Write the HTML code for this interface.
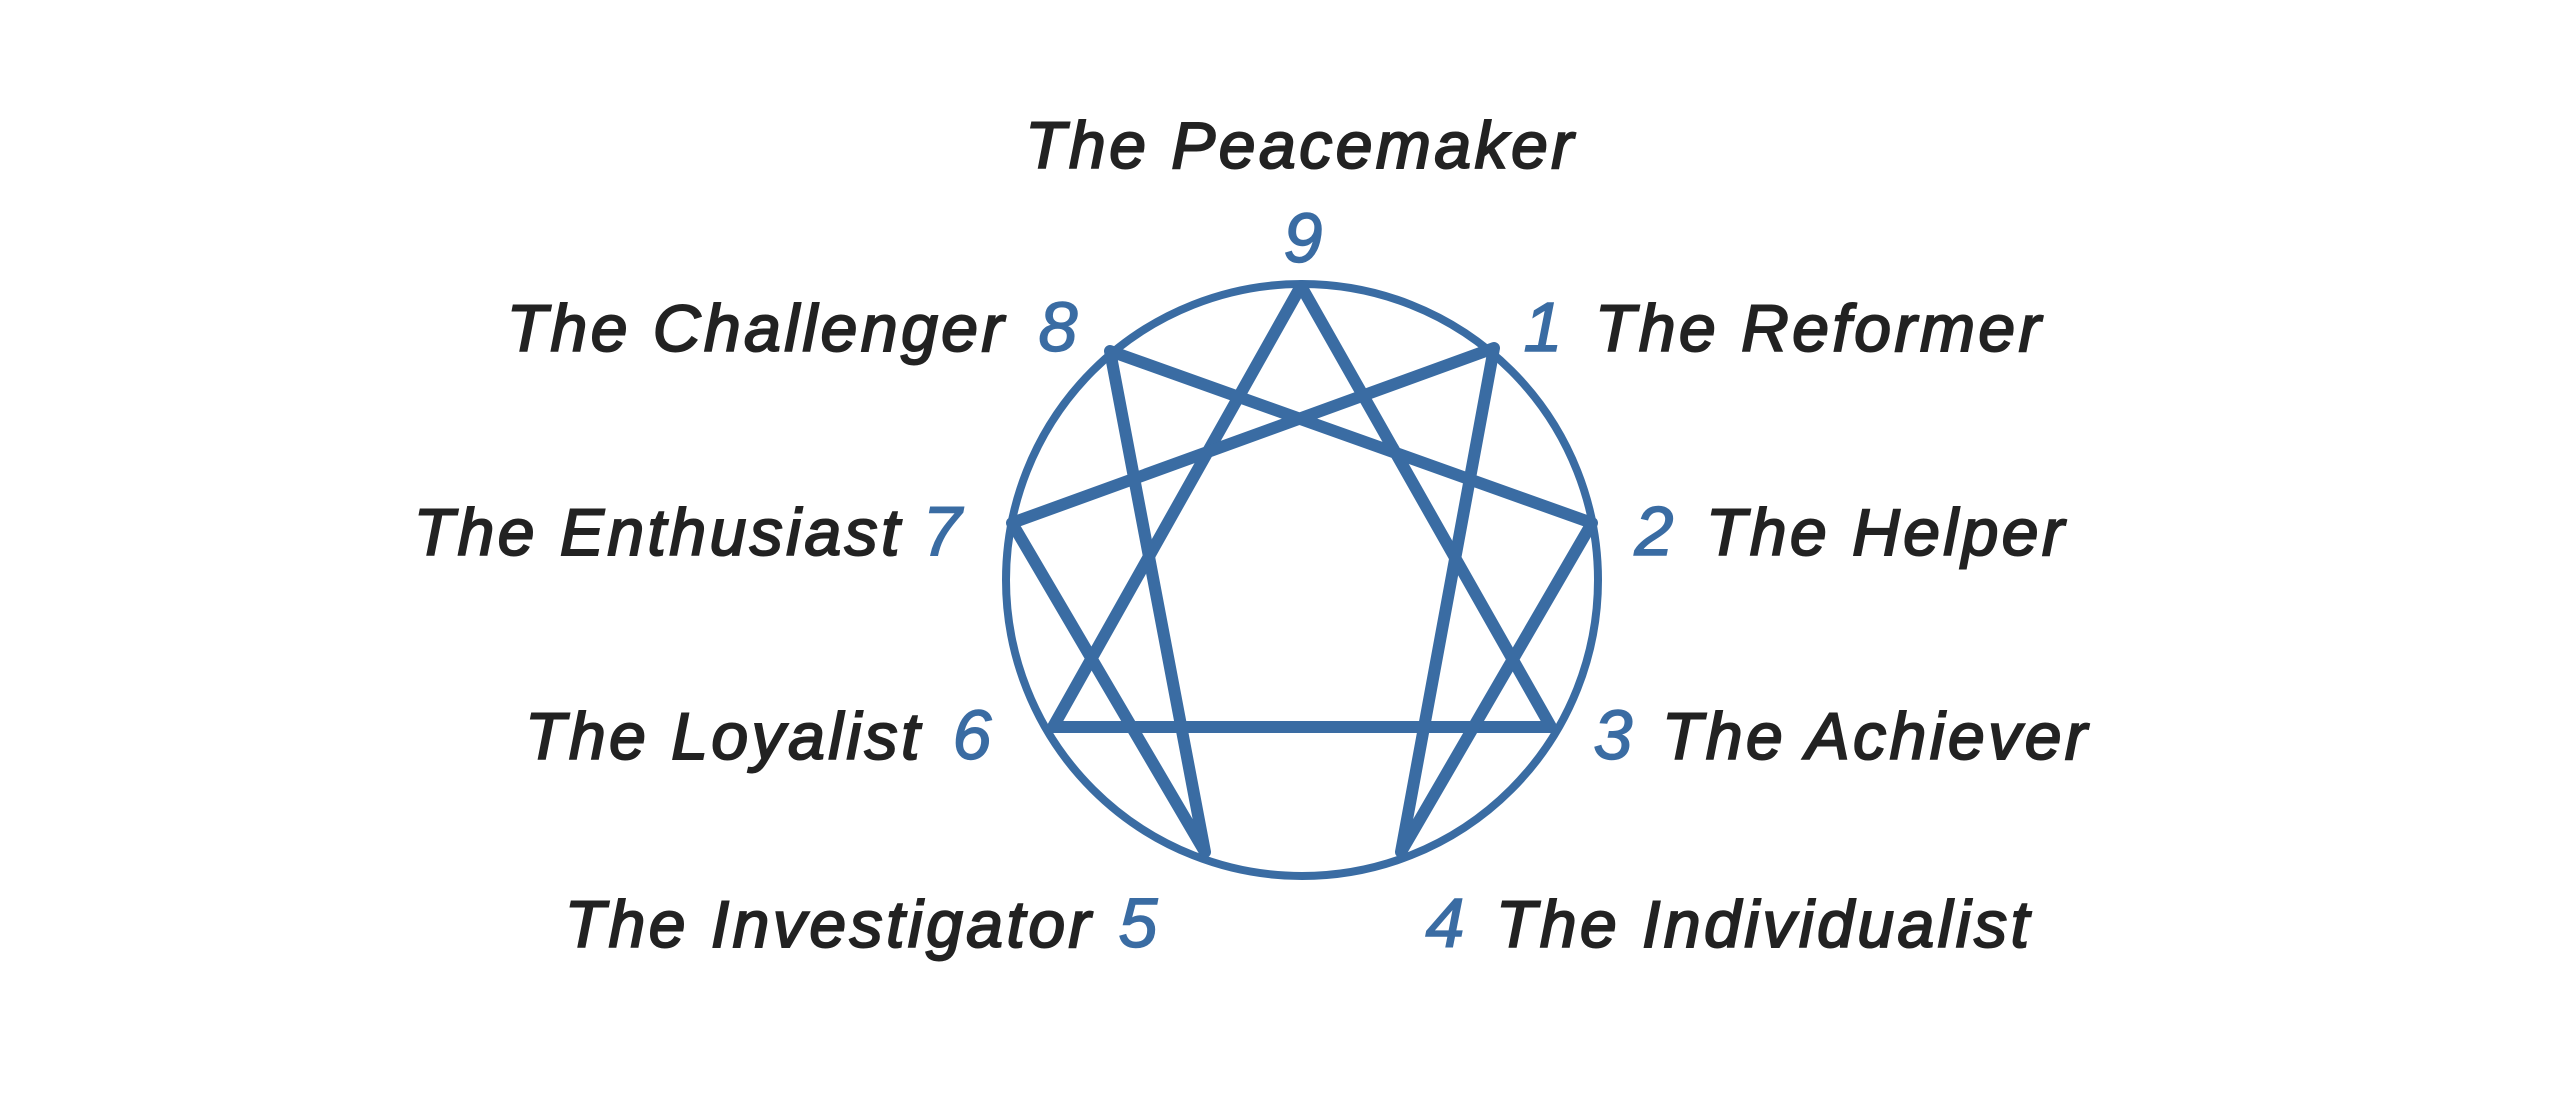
<!DOCTYPE html>
<html><head><style>html,body{margin:0;padding:0;background:#fff;}svg{display:block}</style></head>
<body>
<svg width="2560" height="1100" viewBox="0 0 2560 1100" xmlns="http://www.w3.org/2000/svg">
<g fill="none" stroke="#3a6ca3" stroke-linejoin="round" stroke-linecap="round">
<circle cx="1302" cy="580" r="296" stroke-width="8"/>
<polygon points="1301,286 1551,727 1053,727" stroke-width="12"/>
<polygon points="1494,348 1401,852 1592,523 1110,351 1205,852 1012,523" stroke-width="12"/>
</g>
<g font-family="Liberation Sans, sans-serif" font-style="italic" font-size="66" letter-spacing="3.5" fill="#222" stroke="#222" stroke-width="2">
<text x="1301" y="168" text-anchor="middle">The Peacemaker</text>
<text x="1007" y="351" text-anchor="end">The Challenger</text>
<text x="1595" y="351">The Reformer</text>
<text x="903" y="555" text-anchor="end">The Enthusiast</text>
<text x="1706" y="555">The Helper</text>
<text x="923" y="759" text-anchor="end">The Loyalist</text>
<text x="1662" y="759">The Achiever</text>
<text x="1094" y="947" text-anchor="end">The Investigator</text>
<text x="1496" y="947">The Individualist</text>
</g>
<g font-family="Liberation Sans, sans-serif" font-style="italic" font-size="70" fill="#3a6ca3" stroke="#3a6ca3" stroke-width="1.5" text-anchor="middle">
<text x="1303" y="262">9</text>
<text x="1058" y="351">8</text>
<text x="1543" y="351">1</text>
<text x="942" y="555">7</text>
<text x="1654" y="555">2</text>
<text x="972" y="759">6</text>
<text x="1613" y="759">3</text>
<text x="1138" y="947">5</text>
<text x="1445" y="947">4</text>
</g>
</svg>
</body></html>
